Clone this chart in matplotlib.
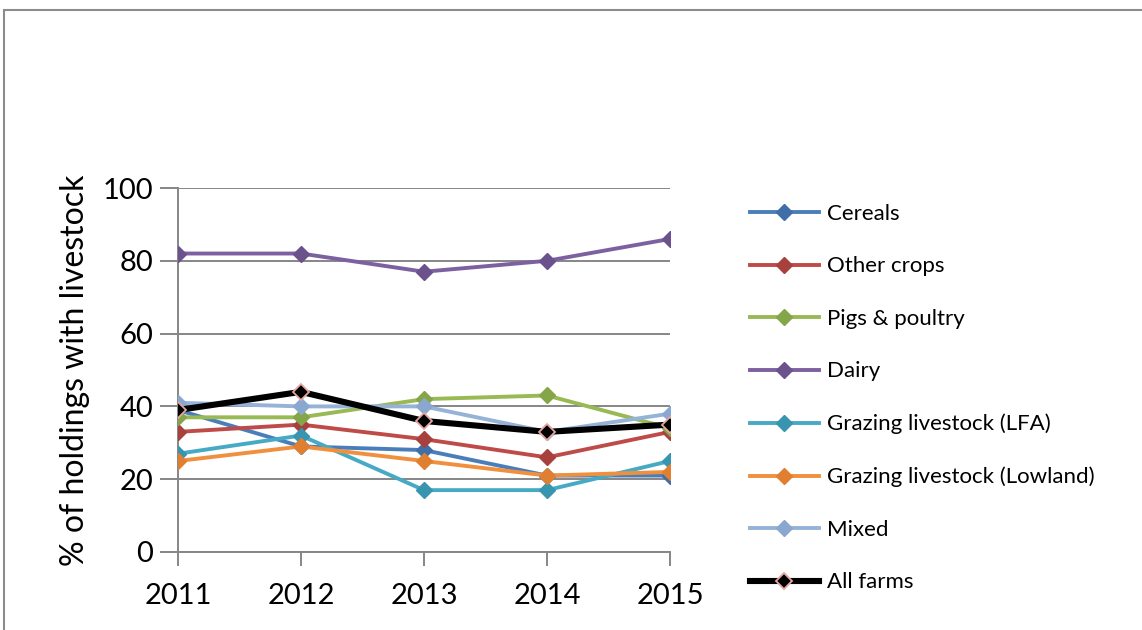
import matplotlib.pyplot as plt
from matplotlib.patches import Rectangle

plt.rcParams['font.family'] = ['Lato', 'DejaVu Sans']

# data
years = [2011, 2012, 2013, 2014, 2015]
cereals = [39, 29, 28, 21, 21]
other_crops = [33, 35, 31, 26, 33]
pigs_poultry = [37, 37, 42, 43, 34]
dairy = [82, 82, 77, 80, 86]
grazing_lfa = [27, 32, 17, 17, 25]
grazing_lowland = [25, 29, 25, 21, 22]
mixed = [41, 40, 40, 33, 38]
all_farms = [39, 44, 36, 33, 35]

series = [
    ("Cereals", cereals, "#4A7EBB", "#3F6FA8"),
    ("Other crops", other_crops, "#BE4B48", "#A8403D"),
    ("Pigs & poultry", pigs_poultry, "#98B954", "#84A548"),
    ("Dairy", dairy, "#7D60A0", "#6B528C"),
    ("Grazing livestock (LFA)", grazing_lfa, "#46AAC5", "#3795AF"),
    ("Grazing livestock (Lowland)", grazing_lowland, "#F0903F", "#E07F2F"),
    ("Mixed", mixed, "#95B3D7", "#8AA8CF"),
]

fig = plt.figure(figsize=(11.42, 6.30), dpi=100)
W, H = 1142, 630
ax = fig.add_axes([178 / W, 1 - 552 / H, (670 - 178) / W, (552 - 188) / H])

for name, vals, col, mcol in series:
    ax.plot(years, vals, color=col, lw=2.8, marker="D", ms=8.5,
            mfc=mcol, mec=mcol, label=name, zorder=3)
ax.plot(years, all_farms, color="black", lw=4.4, marker="D", ms=8.5,
        mfc="black", mec="#E6A5A3", mew=1.3, label="All farms", zorder=4)

ax.set_xlim(2011, 2015)
ax.set_ylim(0, 100)
ax.set_yticks([0, 20, 40, 60, 80, 100])
ax.set_xticks(years)
ax.grid(axis="y", color="#868686", lw=1.4)
ax.set_axisbelow(True)
for s in ["top", "right"]:
    ax.spines[s].set_visible(False)
for s in ["left", "bottom"]:
    ax.spines[s].set_color("#868686")
    ax.spines[s].set_linewidth(1.4)
ax.tick_params(axis="both", colors="#868686", width=1.4,
               labelsize=21, labelcolor="black")
ax.tick_params(axis="y", length=13, pad=5)
ax.tick_params(axis="x", length=10, pad=12)
ax.set_ylabel("% of holdings with livestock", fontsize=23, labelpad=9)

ax.legend(loc="upper left", bbox_to_anchor=(750 / W, 1 - 204 / H),
          bbox_transform=fig.transFigure, frameon=False, fontsize=16,
          handlelength=3.1, handletextpad=0.35, labelspacing=1.46,
          borderaxespad=0, borderpad=0)

fig.patches.append(Rectangle((4 / W, -0.5), 2, 1.5 - 10 / H, transform=fig.transFigure,
                             fill=False, ec="#8C8C8C", lw=1.5))

fig.savefig("out.png", dpi=100)
